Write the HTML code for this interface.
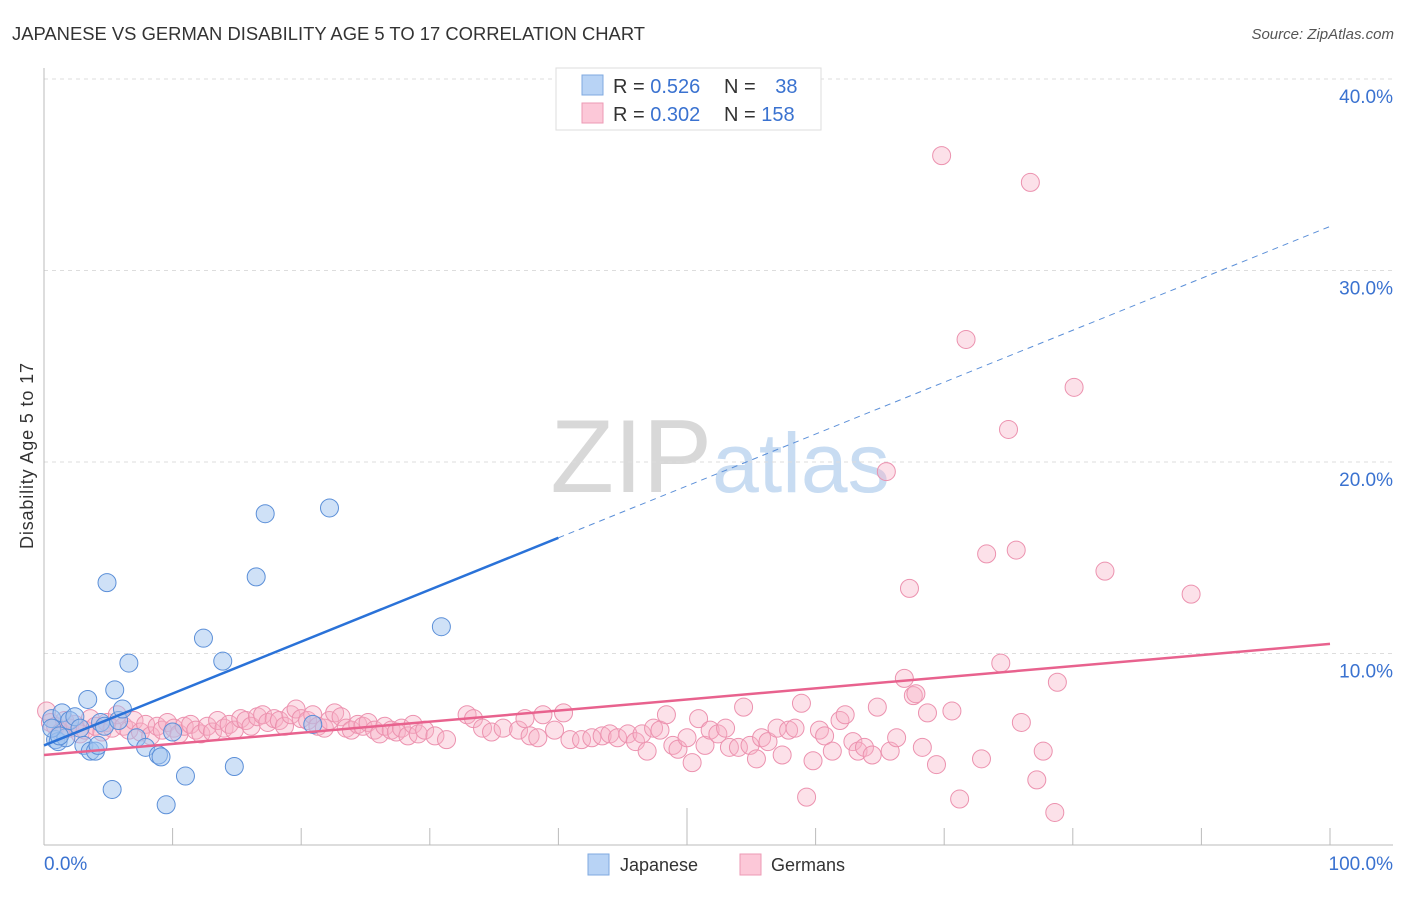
<!DOCTYPE html>
<html><head><meta charset="utf-8"><style>
body{margin:0;background:#fff;font-family:"Liberation Sans",sans-serif;}
svg text{font-family:"Liberation Sans",sans-serif;}
</style></head><body>
<svg id="chart" width="1406" height="892" xmlns="http://www.w3.org/2000/svg">
<text x="12" y="40" font-size="18.4" fill="#333" textLength="633">JAPANESE VS GERMAN DISABILITY AGE 5 TO 17 CORRELATION CHART</text>
<text x="1394" y="39" font-size="15" fill="#555" text-anchor="end" font-style="italic">Source: ZipAtlas.com</text>
<text x="720" y="492" font-size="104" text-anchor="middle" fill="#ddd" font-family="Liberation Serif"><tspan fill="#d8d8d8">ZIP</tspan><tspan fill="#c8dcf2" font-family="Liberation Sans" font-size="84">atlas</tspan></text>
<g id="grid"></g>
<g id="axes"></g>
<g id="marks"></g>
<text transform="translate(33,456) rotate(-90)" font-size="18" fill="#333" text-anchor="middle" textLength="186">Disability Age 5 to 17</text>
<g>
<rect x="556" y="68" width="265" height="62" fill="#fff" stroke="#ddd"/>
<rect x="582" y="75" width="21" height="20" fill="#b8d3f5" stroke="#7fa9e0"/>
<rect x="582" y="103" width="21" height="20" fill="#fcc8d8" stroke="#ec9ab4"/>
<text x="613" y="93" font-size="20" fill="#333">R = <tspan fill="#3a72d0">0.526</tspan></text>
<text x="724" y="93" font-size="20" fill="#333">N = <tspan fill="#3a72d0" dx="14">38</tspan></text>
<text x="613" y="121" font-size="20" fill="#333">R = <tspan fill="#3a72d0">0.302</tspan></text>
<text x="724" y="121" font-size="20" fill="#333">N = <tspan fill="#3a72d0">158</tspan></text>
</g>
<g>
<rect x="588" y="854" width="21" height="21" fill="#b8d3f5" stroke="#7fa9e0"/>
<text x="620" y="871" font-size="18" fill="#333">Japanese</text>
<rect x="740" y="854" width="21" height="21" fill="#fcc8d8" stroke="#ec9ab4"/>
<text x="771" y="871" font-size="18" fill="#333">Germans</text>
</g>
</svg>
<script>
const yTicks=[10,20,30,40];
const yTickLabels=["10.0%","20.0%","30.0%","40.0%"];
const xTickLabels=["0.0%","100.0%"];
const japX=[0.6,0.9,1.1,1.4,1.7,2.0,2.4,2.8,3.1,3.4,3.6,4.0,4.2,4.4,4.7,4.9,5.3,5.5,5.8,6.1,6.6,7.2,7.9,8.9,9.1,9.5,10.0,11.0,12.4,13.9,14.8,16.5,17.2,20.9,22.2,30.9,0.6,1.2];
const japY=[6.6,5.5,5.4,6.9,5.6,6.5,6.7,6.1,5.2,7.6,4.9,4.9,5.2,6.4,6.2,13.7,2.9,8.1,6.5,7.1,9.5,5.6,5.1,4.7,4.6,2.1,5.9,3.6,10.8,9.6,4.1,14.0,17.3,6.3,17.6,11.4,6.1,5.7];
const gerX=[0.2,0.5,0.9,1.3,1.6,2.0,2.4,2.8,3.2,3.6,4.0,4.5,4.9,5.3,5.7,6.2,6.6,7.0,7.5,7.9,8.3,8.8,9.2,9.6,10.1,10.5,10.9,11.4,11.8,12.2,12.7,13.1,13.5,14.0,14.4,14.8,15.3,15.7,16.1,16.6,17.0,17.4,17.9,18.3,18.7,19.2,19.6,20.0,20.5,20.9,21.3,21.8,22.2,22.6,23.1,23.5,23.9,24.4,24.8,25.2,25.7,26.1,26.5,27.0,27.4,27.8,28.3,28.7,29.1,29.6,30.4,31.3,
32.9,33.4,34.1,34.8,35.7,36.9,37.4,37.8,38.4,38.8,39.7,40.4,40.9,41.8,42.6,43.4,44.0,44.6,45.4,46.0,46.5,46.9,47.4,47.9,48.4,48.9,49.3,50.0,50.4,50.9,51.4,51.8,52.4,53.0,53.3,54.0,54.4,54.9,55.4,55.8,56.3,57.0,57.4,57.9,58.4,58.9,59.3,59.8,60.3,60.7,61.3,61.9,62.3,62.9,63.3,63.8,64.4,64.8,65.8,66.3,66.9,67.6,
69.8,76.7,71.7,80.1,75.0,65.5,75.6,73.3,82.5,67.3,89.2,74.4,78.8,67.8,68.7,70.6,76.0,77.7,77.2,72.9,69.4,68.3,71.2,78.6];
const gerY=[7.0,6.4,6.2,5.9,6.5,6.1,6.3,5.8,6.0,6.6,6.2,5.9,6.4,6.1,6.8,6.2,6.0,6.5,5.9,6.3,5.7,6.2,6.0,6.4,6.1,5.8,6.2,6.3,6.0,5.8,6.2,5.9,6.5,6.1,6.3,6.0,6.6,6.5,6.2,6.7,6.8,6.4,6.6,6.5,6.2,6.8,7.1,6.6,6.5,6.8,6.2,6.1,6.5,6.9,6.7,6.1,6.0,6.3,6.2,6.4,6.0,5.8,6.2,6.0,5.9,6.1,5.7,6.3,5.8,6.0,5.7,5.5,
6.8,6.6,6.1,5.9,6.1,6.0,6.6,5.7,5.6,6.8,6.0,6.9,5.5,5.5,5.6,5.7,5.8,5.6,5.8,5.4,5.8,4.9,6.1,6.0,6.8,5.2,5.0,5.6,4.3,6.6,5.2,6.0,5.8,6.1,5.1,5.1,7.2,5.2,4.5,5.6,5.4,6.1,4.7,6.0,6.1,7.4,2.5,4.4,6.0,5.7,4.9,6.5,6.8,5.4,4.9,5.1,4.7,7.2,4.9,5.6,8.7,7.8,
36.0,34.6,26.4,23.9,21.7,19.5,15.4,15.2,14.3,13.4,13.1,9.5,8.5,7.9,6.9,7.0,6.4,4.9,3.4,4.5,4.2,5.1,2.4,1.7];
const trendJap=[5.2,32.3];
const trendGer=[4.7,10.5];
const NS="http://www.w3.org/2000/svg";
const X0=44,X1=1330,Y0=845,Y40=79;
function sx(v){return X0+(X1-X0)*v/100;}
function sy(v){return Y0-(Y0-Y40)*v/40;}
function mk(tag,attrs,parent){const e=document.createElementNS(NS,tag);for(const k in attrs)e.setAttribute(k,attrs[k]);parent.appendChild(e);return e;}
const grid=document.getElementById('grid'),axes=document.getElementById('axes'),marks=document.getElementById('marks');
yTicks.forEach((t,i)=>{
 const l=mk('line',{x1:X0,x2:1393,y1:sy(t),y2:sy(t),stroke:'#ddd','stroke-dasharray':'4,4'},grid);
 
 
 const tx=mk('text',{x:1393,y:sy(t)+24,'font-size':19,fill:'#3a72d0','text-anchor':'end'},axes);
 tx.textContent=yTickLabels[i];
 
 
});
mk('line',{x1:X0,x2:X0,y1:68,y2:Y0,stroke:'#bbb'},axes);
mk('line',{x1:X0,x2:1393,y1:Y0,y2:Y0,stroke:'#bbb'},axes);
for(let k=1;k<=10;k++){
 const tk=mk('line',{x1:sx(k*10),x2:sx(k*10),y1:k==5?808:828,y2:Y0,stroke:'#bbb'},axes);
 
 
}
const xl0=mk('text',{x:44,y:870,'font-size':19,fill:'#3a72d0'},axes);xl0.textContent=xTickLabels[0];


const xl1=mk('text',{x:1393,y:870,'font-size':19,fill:'#3a72d0','text-anchor':'end'},axes);xl1.textContent=xTickLabels[1];


gerX.forEach((x,i)=>{
 const c=mk('circle',{cx:sx(x),cy:sy(gerY[i]),r:9,fill:'rgba(248,175,198,0.38)',stroke:'#ec92af','stroke-width':1},marks);
 
 
});
japX.forEach((x,i)=>{
 const c=mk('circle',{cx:sx(x),cy:sy(japY[i]),r:9,fill:'rgba(160,195,240,0.5)',stroke:'#5b8fd8','stroke-width':1},marks);
 
 
});
const jy=x=>trendJap[0]+(trendJap[1]-trendJap[0])*x/100;
const gy=x=>trendGer[0]+(trendGer[1]-trendGer[0])*x/100;
const ls=mk('line',{x1:sx(0),y1:sy(jy(0)),x2:sx(40),y2:sy(jy(40)),stroke:'#2a72d8','stroke-width':2.5},marks);


const ld=mk('line',{x1:sx(40),y1:sy(jy(40)),x2:sx(100),y2:sy(jy(100)),stroke:'#5b8fd8','stroke-width':1,'stroke-dasharray':'6,5'},marks);


const lg=mk('line',{x1:sx(0),y1:sy(gy(0)),x2:sx(100),y2:sy(gy(100)),stroke:'#e8628e','stroke-width':2.5},marks);


</script>
</body></html>
